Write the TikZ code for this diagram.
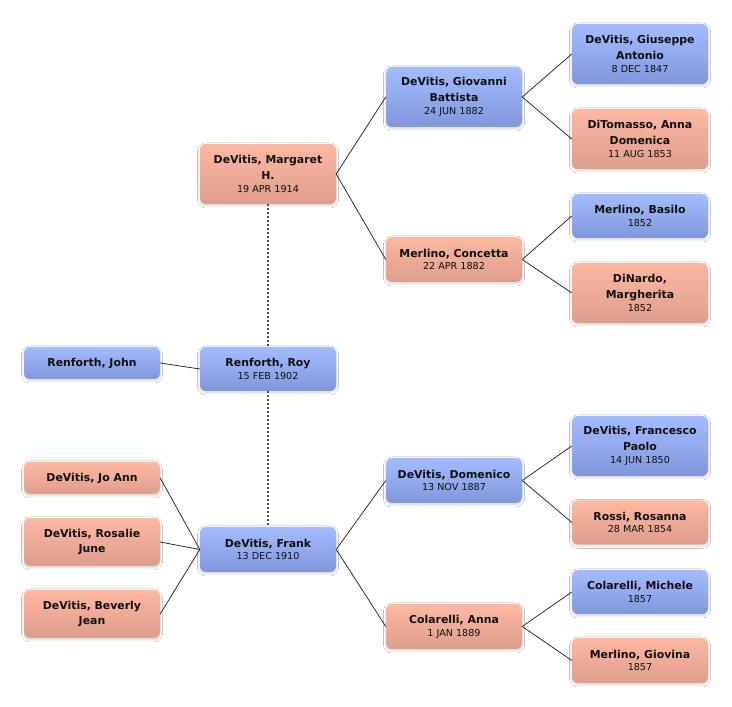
\documentclass[tikz,border=0pt]{standalone}
\usepackage{fontspec}
\setmainfont{DejaVu Sans}
\usetikzlibrary{shadows.blur}
\definecolor{btop}{HTML}{A4BBFE}
\definecolor{bbot}{HTML}{8098DB}
\definecolor{ptop}{HTML}{FDB8A1}
\definecolor{pbot}{HTML}{DE9D8D}
\definecolor{ink}{HTML}{111111}
\newcommand\pname{\fontsize{10.9}{15.7}\selectfont\bfseries}
\newcommand\pdate[1]{{\fontsize{9.6}{12}\selectfont\mdseries #1}}
\tikzset{
  person/.style={rounded corners=6pt, minimum width=136pt, inner sep=0pt,
    align=center, font=\pname, text=ink,
    blur shadow={shadow xshift=0pt, shadow yshift=-1.5pt, shadow blur radius=2.5pt, shadow blur steps=8, shadow opacity=18}},
  male/.style={person, top color=btop, bottom color=bbot},
  female/.style={person, top color=ptop, bottom color=pbot},
  conn/.style={draw=black!85, line width=0.75pt},
  kin/.style={draw=black!70, line width=1.4pt, dash pattern=on 2.2pt off 1.8pt}
}
\begin{document}
\begin{tikzpicture}[x=1pt,y=1pt]
\useasboundingbox (0,0) rectangle (732,707);
\fill[white] (0,0) rectangle (732,707);
% generation 1
\node[male, minimum height=60pt] (giuseppe) at (640,653) {DeVitis, Giuseppe\\Antonio\\[-3pt]\pdate{8 DEC 1847}};
\node[female, minimum height=60pt] (annad) at (640,568) {DiTomasso, Anna\\Domenica\\[-3pt]\pdate{11 AUG 1853}};
\node[male, minimum height=44pt] (basilo) at (640,491) {Merlino, Basilo\\[-3pt]\pdate{1852}};
\node[female, minimum height=60pt] (margherita) at (640,414) {DiNardo,\\Margherita\\[-3pt]\pdate{1852}};
\node[male, minimum height=60pt] (francesco) at (640,261) {DeVitis, Francesco\\Paolo\\[-3pt]\pdate{14 JUN 1850}};
\node[female, minimum height=44pt] (rosanna) at (640,184.5) {Rossi, Rosanna\\[-3pt]\pdate{28 MAR 1854}};
\node[male, minimum height=44pt] (michele) at (640,115) {Colarelli, Michele\\[-3pt]\pdate{1857}};
\node[female, minimum height=45pt] (giovina) at (640,46.5) {Merlino, Giovina\\[-3pt]\pdate{1857}};
% generation 2
\node[male, minimum height=60pt] (giovanni) at (454,610) {DeVitis, Giovanni\\Battista\\[-3pt]\pdate{24 JUN 1882}};
\node[female, minimum height=45pt] (concetta) at (454,447.5) {Merlino, Concetta\\[-3pt]\pdate{22 APR 1882}};
\node[male, minimum height=45pt] (domenico) at (454,226.5) {DeVitis, Domenico\\[-3pt]\pdate{13 NOV 1887}};
\node[female, minimum height=45pt] (annac) at (454,80.5) {Colarelli, Anna\\[-3pt]\pdate{1 JAN 1889}};
% generation 3
\node[female, minimum height=60pt] (margaret) at (268,533) {DeVitis, Margaret\\H.\\[-3pt]\pdate{19 APR 1914}};
\node[male, minimum height=44pt] (roy) at (268,338) {Renforth, Roy\\[-3pt]\pdate{15 FEB 1902}};
\node[male, minimum height=45pt] (frank) at (268,157.5) {DeVitis, Frank\\[-3pt]\pdate{13 DEC 1910}};
% left column
\node[male, minimum height=32pt] (john) at (92,344) {Renforth, John};
\node[female, minimum height=32pt] (joann) at (92,229) {DeVitis, Jo Ann};
\node[female, minimum height=48pt] (rosalie) at (92,165) {DeVitis, Rosalie\\June};
\node[female, minimum height=48pt] (beverly) at (92,93) {DeVitis, Beverly\\Jean};
% connectors
\draw[conn] (giovanni.east) -- (giuseppe.west);
\draw[conn] (giovanni.east) -- (annad.west);
\draw[conn] (concetta.east) -- (basilo.west);
\draw[conn] (concetta.east) -- (margherita.west);
\draw[conn] (domenico.east) -- (francesco.west);
\draw[conn] (domenico.east) -- (rosanna.west);
\draw[conn] (annac.east) -- (michele.west);
\draw[conn] (annac.east) -- (giovina.west);
\draw[conn] (margaret.east) -- (giovanni.west);
\draw[conn] (margaret.east) -- (concetta.west);
\draw[conn] (frank.east) -- (domenico.west);
\draw[conn] (frank.east) -- (annac.west);
\draw[conn] (john.east) -- (roy.west);
\draw[conn] (joann.east) -- (frank.west);
\draw[conn] (rosalie.east) -- (frank.west);
\draw[conn] (beverly.east) -- (frank.west);
\draw[kin] (margaret.south) -- (roy.north);
\draw[kin] (roy.south) -- (frank.north);
\end{tikzpicture}
\end{document}
